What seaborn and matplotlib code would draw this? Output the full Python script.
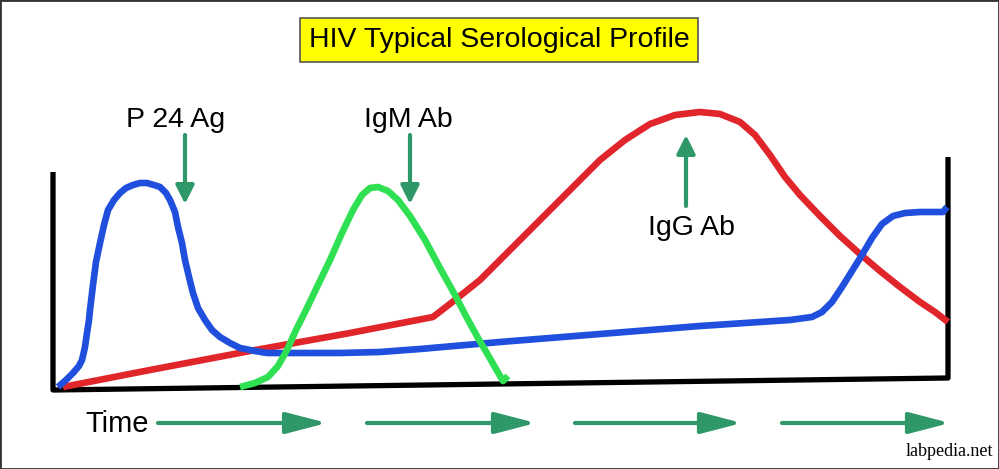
import numpy as np
import pandas as pd
import seaborn as sns
import matplotlib.pyplot as plt

###############################
######### data ################
###############################
# curves, in picture units (x right, y down)
p24_x = [58, 66, 73, 79, 82, 85, 87, 89, 90, 93, 96, 100, 104, 108, 114, 120, 126,
         133, 140, 147, 154, 160, 166, 170, 175, 178, 182, 185, 189, 193, 198, 205,
         212, 220, 230, 240, 255, 267, 290, 340, 380, 420, 500, 600, 700, 790, 812,
         822, 832, 842, 852, 862, 872, 882, 893, 905, 920, 943, 947]
p24_y = [387, 380, 373, 366, 360, 347, 333, 320, 310, 285, 262, 243, 225, 210, 200,
         193, 188, 185, 183, 183, 185, 187, 193, 200, 212, 227, 243, 260, 277, 293,
         308, 320, 330, 337, 343, 348, 351, 353, 353, 353, 352, 349, 342, 334, 326,
         320, 317, 312, 302, 287, 271, 255, 238, 224, 216, 213, 212, 212, 207]

igg_x = [63, 150, 250, 350, 433, 455, 480, 510, 540, 570, 600, 625, 650, 675, 700,
         720, 740, 755, 770, 785, 800, 820, 840, 860, 880, 900, 920, 935, 948]
igg_y = [387, 370, 351, 333, 317, 300, 280, 250, 220, 190, 160, 140, 124, 115, 112,
         114, 122, 135, 155, 177, 195, 216, 236, 254, 271, 287, 302, 312, 322]

igm_x = [240, 255, 268, 278, 287, 296, 306, 318, 330, 342, 353, 362, 370, 378, 388,
         398, 410, 425, 440, 455, 467, 478, 488, 496, 503, 508]
igm_y = [387, 383, 377, 366, 350, 330, 310, 285, 260, 233, 210, 195, 188, 187, 191,
         200, 216, 240, 268, 295, 318, 338, 355, 369, 381, 376]

frame_x = [53, 53, 948, 948]
frame_y = [172, 390, 378, 157]

title = 'HIV Typical Serological Profile'
labels = ['P 24 Ag', 'IgM Ab', 'IgG Ab']
label_pos = [(176, 120), (408, 120), (692, 228)]
# marker arrows: (x, tail y, tip y)
marker_arrows = [(185, 135, 204), (410, 135, 204), (686, 206, 135)]
# time arrows: (start x, end x)
time_arrows = [(158, 327), (367, 536), (575, 742), (782, 950)]
time_y = 423

###############################
############ plot #############
###############################
sns.set_style('white')
plt.rcParams['font.family'] = ['Liberation Sans', 'DejaVu Sans']

blue = '#1f4fdc'
red = '#e0262a'
green = '#2ee052'
arrow_green = '#2e9868'

fig = plt.figure(figsize=(9.99, 4.69), dpi=100)
ax = fig.add_axes([0, 0, 1, 1])
ax.set_xlim(0, 999)
ax.set_ylim(469, 0)
ax.set_xticks([])
ax.set_yticks([])
for s in ax.spines.values():
    s.set_color('#333333')
    s.set_linewidth(2)

line_kw = dict(sort=False, estimator=None, solid_joinstyle='round',
               solid_capstyle='butt', ax=ax)

# frame of the graph
sns.lineplot(x=frame_x, y=frame_y, color='black', linewidth=3.8, **line_kw)

# curves
sns.lineplot(x=igg_x, y=igg_y, color=red, linewidth=4.8, **line_kw)
sns.lineplot(x=p24_x, y=p24_y, color=blue, linewidth=4.8, **line_kw)
sns.lineplot(x=igm_x, y=igm_y, color=green, linewidth=4.8, **line_kw)

# title box
ax.text(499, 40, title, ha='center', va='center', fontsize=20.5, color='black',
        bbox=dict(boxstyle='square,pad=0.3', facecolor='#ffff00',
                  edgecolor='#555555', linewidth=1.2))

# labels and marker arrows
for lab, (lx, ly) in zip(labels, label_pos):
    ax.text(lx, ly, lab, ha='center', va='center', fontsize=20.5, color='black')
for mx, y0, y1 in marker_arrows:
    ax.annotate('', xy=(mx, y1), xytext=(mx, y0),
                arrowprops=dict(arrowstyle='-|>,head_length=1.1,head_width=0.55',
                                mutation_scale=10, color=arrow_green, lw=3,
                                shrinkA=0, shrinkB=0))

# time axis
ax.text(117, time_y + 1, 'Time', ha='center', va='center', fontsize=21, color='black')
for x0, x1 in time_arrows:
    ax.annotate('', xy=(x1, time_y), xytext=(x0, time_y),
                arrowprops=dict(arrowstyle='-|>,head_length=2.5,head_width=0.65',
                                mutation_scale=10, color=arrow_green, lw=3,
                                shrinkA=0, shrinkB=0))

ax.text(993, 452, 'labpedia.net', ha='right', va='center', fontsize=13,
        family='Liberation Serif', color='black')

fig.savefig('out.png', dpi=100)
